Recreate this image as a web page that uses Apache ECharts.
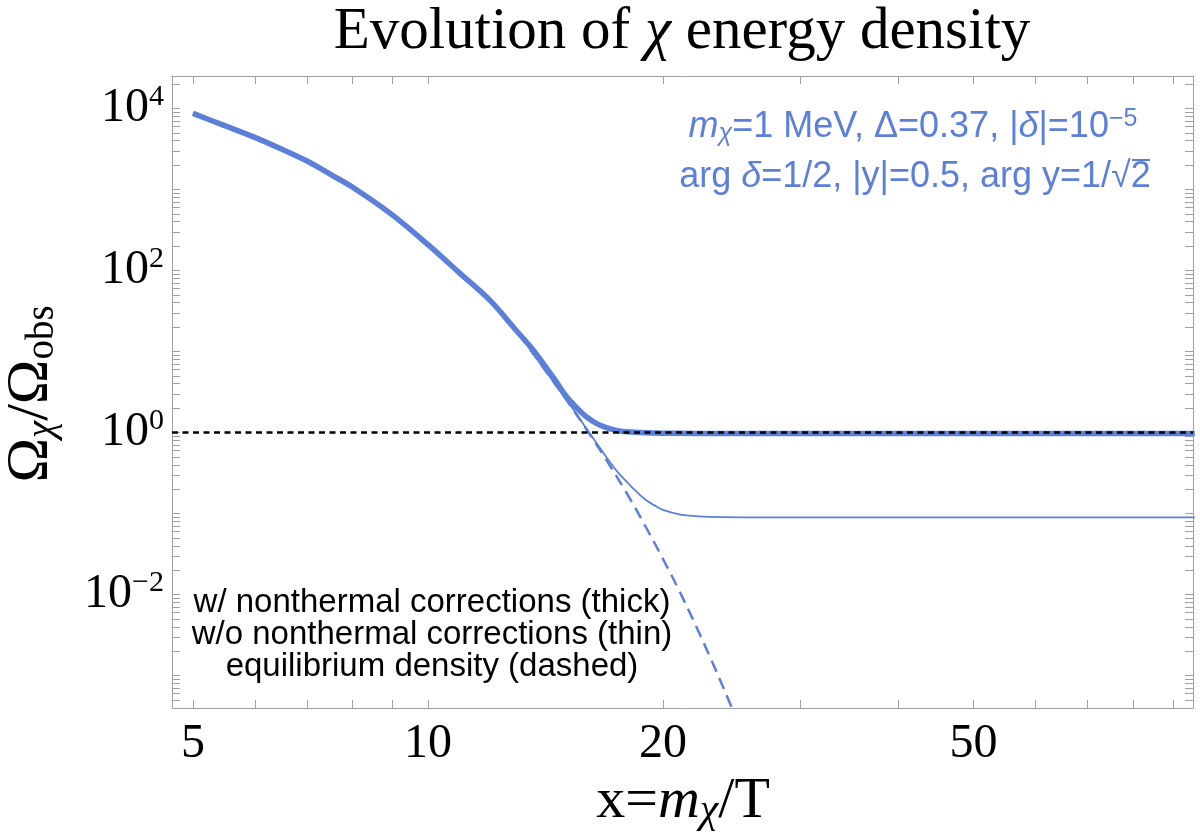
<!DOCTYPE html>
<html>
<head>
<meta charset="utf-8">
<title>Evolution of χ energy density</title>
<script src="https://cdn.jsdelivr.net/npm/echarts@6/dist/echarts.min.js"></script>
<style>
html, body { margin: 0; padding: 0; background: #fff; }
#main { width: 1200px; height: 840px; }
</style>
</head>
<body>
<div id="main"></div>
<script>
// axis ranges (x = m_chi/T, y = Omega_chi/Omega_obs), both log
var xRange = [4.7, 95.5];
var yRange = [3.98e-4, 2.512e4];

// ticks
var xTicks = [5, 6, 7, 8, 9, 10, 20, 30, 40, 50, 60, 70, 80, 90];
var xTickLabels = [5, 10, 20, 50];
var yTickLabels = [1e-2, 1, 1e2, 1e4];
var yMantissas = [1, 2, 3, 4, 5, 6, 7, 8, 9];
var yDecades = [-4, -3, -2, -1, 0, 1, 2, 3, 4];

// equilibrium density (dashed)
var xEq = [5, 5.5, 6, 6.5, 7, 7.5, 8, 9, 10, 11, 12, 13, 14, 15, 16, 17, 18, 19, 20, 21, 22, 23, 24, 25];
var yEq = [8670, 6080, 4390, 3130, 2240, 1535, 1070, 485, 208, 91.4, 43.0, 17.5, 6.6, 2.63, 1.057, 0.427, 0.174, 0.0692, 0.0275, 0.011, 0.00427, 0.00166, 0.000646, 0.00025];

// w/ nonthermal corrections (thick)
var xThick = [5, 5.5, 6, 6.5, 7, 7.5, 8, 9, 10, 11, 12, 13, 13.5, 14, 14.5, 15, 15.5, 16, 16.5, 17, 17.5, 18, 19, 20, 22, 25, 30, 40, 60, 96];
var yThick = [8670, 6080, 4390, 3130, 2240, 1535, 1070, 485, 208, 91.4, 43.0, 17.8, 11.75, 7.46, 4.65, 2.88, 2.03, 1.53, 1.27, 1.135, 1.054, 1.019, 0.993, 0.982, 0.975, 0.975, 0.975, 0.975, 0.975, 0.975];

// w/o nonthermal corrections (thin)
var xThin = [5, 5.5, 6, 6.5, 7, 7.5, 8, 9, 10, 11, 12, 13, 14, 15, 15.5, 16, 16.5, 17, 17.5, 18, 18.5, 19, 19.5, 20, 21, 22, 23, 25, 30, 40, 60, 96];
var yThin = [8670, 6080, 4390, 3130, 2240, 1535, 1070, 485, 208, 91.4, 43.0, 17.5, 6.6, 2.63, 1.70, 1.072, 0.708, 0.468, 0.324, 0.243, 0.186, 0.148, 0.126, 0.111, 0.0977, 0.0929, 0.0908, 0.0899, 0.0899, 0.0899, 0.0899, 0.0899];

// observed abundance (dotted)
var xObs = [4.7, 95.5];
var yObs = [1, 1];

var blue = '#5c7fd8';
var frame = '#a0a0a0';
var serif = 'Liberation Serif';
var sans = 'Liberation Sans';

function lg(v) { return Math.log10(v); }
function pairs(xs, ys) {
	return xs.map(function (x, i) { return [lg(x), lg(ys[i])]; });
}

var yTicks = [];
yDecades.forEach(function (d) {
	yMantissas.forEach(function (m) {
		var v = m * Math.pow(10, d);
		if (v >= yRange[0] && v <= yRange[1]) yTicks.push(lg(v));
	});
});

var chart = echarts.init(document.getElementById('main'));

function xAxisOpt(pos) {
	return {
		type: 'value',
		position: pos,
		min: lg(xRange[0]),
		max: lg(xRange[1]),
		axisLine: { show: true, onZero: false, lineStyle: { color: frame, width: 1 } },
		axisTick: { show: true, inside: true, length: 8, customValues: xTicks.map(lg), lineStyle: { color: frame, width: 1 } },
		axisLabel: {
			show: pos === 'bottom',
			customValues: xTickLabels.map(lg),
			formatter: function (v) { return String(Math.round(Math.pow(10, v))); },
			fontFamily: serif, fontSize: 48, color: '#000', margin: 12
		},
		splitLine: { show: false }
	};
}
function yAxisOpt(pos) {
	return {
		type: 'value',
		position: pos,
		min: lg(yRange[0]),
		max: lg(yRange[1]),
		axisLine: { show: true, onZero: false, lineStyle: { color: frame, width: 1 } },
		axisTick: { show: true, inside: true, length: 8, customValues: yTicks, lineStyle: { color: frame, width: 1 } },
		axisLabel: {
			show: pos === 'left',
			customValues: yTickLabels.map(lg),
			formatter: function (v) {
				var e = Math.round(v);
				return '{b|10}{s|' + (e < 0 ? '\u2212' + (-e) : e) + '}';
			},
			margin: 8,
			rich: {
				b: { fontFamily: serif, fontSize: 48, lineHeight: 52, color: '#000' },
				s: { fontFamily: serif, fontSize: 30, lineHeight: 26, verticalAlign: 'top', color: '#000' }
			}
		},
		splitLine: { show: false }
	};
}

var lineBase = { type: 'line', showSymbol: false, symbol: 'none', smooth: 0.35 };

chart.setOption({
	animation: false,
	backgroundColor: '#fff',
	grid: { left: 172, right: 7, top: 76, bottom: 132, outerBoundsMode: 'none' },
	xAxis: [xAxisOpt('bottom'), xAxisOpt('top')],
	yAxis: [yAxisOpt('left'), yAxisOpt('right')],
	series: [
		Object.assign({}, lineBase, {
			name: 'equilibrium', data: pairs(xEq, yEq),
			lineStyle: { color: blue, width: 2.5, type: [12, 7] }
		}),
		Object.assign({}, lineBase, {
			name: 'thin', data: pairs(xThin, yThin),
			lineStyle: { color: blue, width: 1.8 }
		}),
		Object.assign({}, lineBase, {
			name: 'thick', data: pairs(xThick, yThick),
			lineStyle: { color: blue, width: 5.5 }
		}),
		Object.assign({}, lineBase, {
			name: 'obs', data: pairs(xObs, yObs), smooth: false,
			lineStyle: { color: '#000', width: 2.5, type: [6, 4.5] }
		})
	],
	graphic: [
		{
			type: 'text', x: 682, y: 32,
			style: {
				text: '{a|Evolution of }{i|χ}{a| energy density}',
				align: 'center', verticalAlign: 'middle',
				rich: {
					a: { fontFamily: serif, fontSize: 59, lineHeight: 62, fill: '#000' },
					i: { fontFamily: serif, fontStyle: 'italic', fontSize: 59, lineHeight: 62, fill: '#000' }
				}
			}
		},
		{
			type: 'text', x: 683, y: 802,
			style: {
				text: '{r|x=}{i|m}{c|χ}{r|/T}',
				align: 'center', verticalAlign: 'middle',
				rich: {
					r: { fontFamily: serif, fontSize: 58, lineHeight: 60, fill: '#000' },
					i: { fontFamily: serif, fontStyle: 'italic', fontSize: 58, lineHeight: 60, fill: '#000' },
					c: { fontFamily: serif, fontStyle: 'italic', fontSize: 42, lineHeight: 41, verticalAlign: 'bottom', fill: '#000' }
				}
			}
		},
		{
			type: 'text', x: 31, y: 394, rotation: Math.PI / 2,
			style: {
				text: '{r|Ω}{c|χ}{r|/Ω}{s|obs}',
				align: 'center', verticalAlign: 'middle',
				rich: {
					r: { fontFamily: serif, fontSize: 60, lineHeight: 62, fill: '#000' },
					c: { fontFamily: serif, fontStyle: 'italic', fontSize: 39, lineHeight: 36, verticalAlign: 'bottom', fill: '#000' },
					s: { fontFamily: serif, fontSize: 39, lineHeight: 36, verticalAlign: 'bottom', fill: '#000' }
				}
			}
		},
		{
			type: 'text', x: 913, y: 127,
			style: {
				text: '{i|m}{c|χ}{r|=1 MeV, Δ=0.37, |}{i|δ}{r||=10}{p|\u22125}',
				align: 'center', verticalAlign: 'middle',
				rich: {
					r: { fontFamily: sans, fontSize: 36, lineHeight: 40, fill: blue },
					i: { fontFamily: sans, fontStyle: 'italic', fontSize: 36, lineHeight: 40, fill: blue },
					c: { fontFamily: sans, fontStyle: 'italic', fontSize: 25, lineHeight: 18, verticalAlign: 'bottom', fill: blue },
					p: { fontFamily: sans, fontSize: 25, lineHeight: 26, verticalAlign: 'top', fill: blue }
				}
			}
		},
		{
			type: 'text', x: 915, y: 177,
			style: {
				text: '{r|arg }{i|δ}{r|=1/2, |y|=0.5, arg y=1/√2}',
				align: 'center', verticalAlign: 'middle',
				rich: {
					r: { fontFamily: sans, fontSize: 36, lineHeight: 40, fill: blue },
					i: { fontFamily: sans, fontStyle: 'italic', fontSize: 36, lineHeight: 40, fill: blue }
				}
			}
		},
		{
			// overline of the square root
			type: 'line', shape: { x1: 1132, y1: 160, x2: 1150, y2: 160 },
			style: { stroke: blue, lineWidth: 2 }
		},
		{
			type: 'text', x: 432, y: 635,
			style: {
				text: 'w/ nonthermal corrections (thick)\nw/o nonthermal corrections (thin)\nequilibrium density (dashed)',
				align: 'center', verticalAlign: 'middle',
				fontFamily: sans, fontSize: 33, lineHeight: 32, fill: '#000'
			}
		}
	]
});
</script>
</body>
</html>
